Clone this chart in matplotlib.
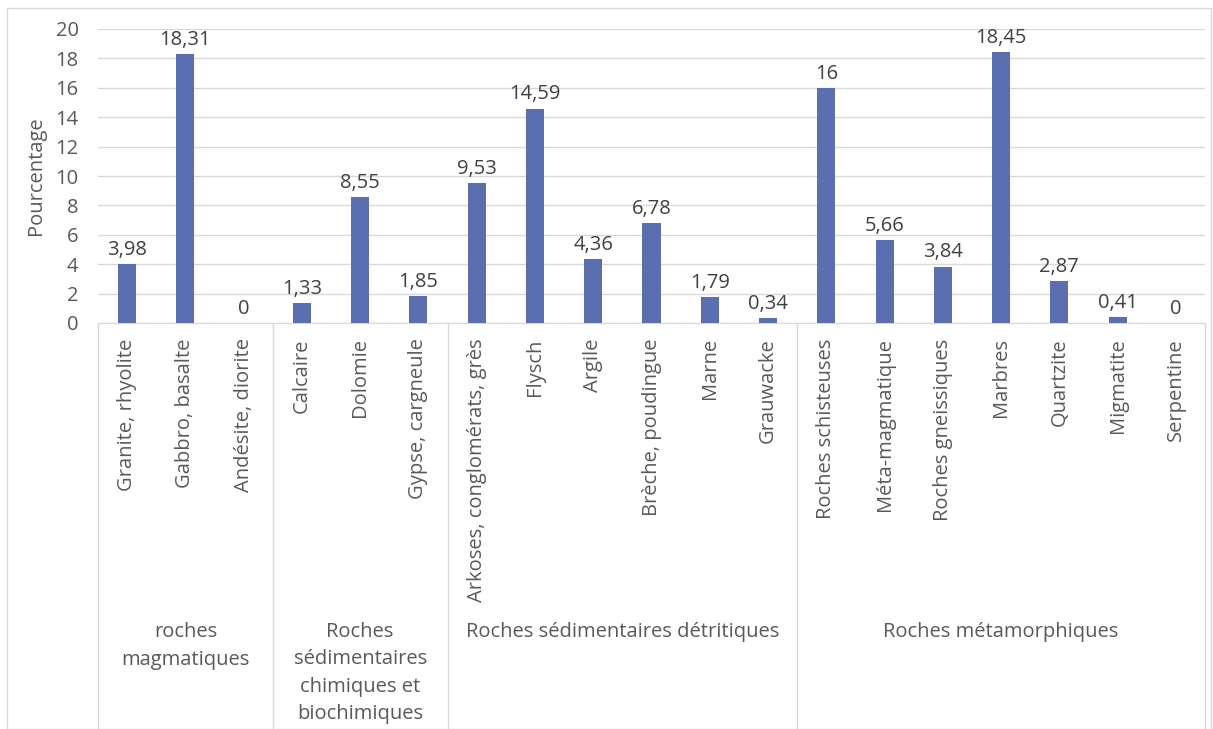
import matplotlib.pyplot as plt
import matplotlib.transforms as mtransforms
from matplotlib.patches import Rectangle

plt.rcParams['font.family'] = ['Open Sans', 'DejaVu Sans']

# Données
categories = ["Granite, rhyolite", "Gabbro, basalte", "Andésite, diorite",
              "Calcaire", "Dolomie", "Gypse, cargneule",
              "Arkoses, conglomérats, grès", "Flysch", "Argile", "Brèche, poudingue",
              "Marne", "Grauwacke",
              "Roches schisteuses", "Méta-magmatique", "Roches gneissiques", "Marbres",
              "Quartzite", "Migmatite", "Serpentine"]
valeurs = [3.98, 18.31, 0, 1.33, 8.55, 1.85, 9.53, 14.59, 4.36, 6.78, 1.79, 0.34,
           16, 5.66, 3.84, 18.45, 2.87, 0.41, 0]
etiquettes = ["3,98", "18,31", "0", "1,33", "8,55", "1,85", "9,53", "14,59", "4,36",
              "6,78", "1,79", "0,34", "16", "5,66", "3,84", "18,45", "2,87", "0,41", "0"]
groupes = ["roches\nmagmatiques", "Roches\nsédimentaires\nchimiques et\nbiochimiques",
           "Roches sédimentaires détritiques", "Roches métamorphiques"]
taille_groupes = [3, 3, 6, 7]

couleur_barre = '#5b6fb0'
couleur_texte = '#595959'
couleur_ligne = '#d9d9d9'
taille_police = 14.5

W, H = 1213, 729
fig = plt.figure(figsize=(W / 100, H / 100), dpi=100)
ax = fig.add_axes([98 / W, (H - 323) / H, (1205 - 98) / W, (323 - 29) / H])

x = list(range(len(categories)))
barres = ax.bar(x, valeurs, width=0.31, color=couleur_barre, zorder=3)

for xi, v, lab in zip(x, valeurs, etiquettes):
    ax.annotate(lab, (xi, v), xytext=(0, 3), textcoords='offset points',
                ha='center', va='bottom', fontsize=taille_police, color='#404040')

ax.set_xlim(-0.5, len(categories) - 0.5)
ax.set_ylim(0, 20)
ax.set_yticks(range(0, 21, 2))
ax.tick_params(axis='y', length=0, labelsize=taille_police, labelcolor=couleur_texte, pad=14)
ax.yaxis.grid(True, color=couleur_ligne, linewidth=1)
ax.set_axisbelow(True)
for s in ['top', 'right', 'left']:
    ax.spines[s].set_visible(False)
ax.spines['bottom'].set_color(couleur_ligne)

ax.set_ylabel("Pourcentage", fontsize=taille_police, color=couleur_texte, labelpad=7)

ax.set_xticks(x)
ax.set_xticklabels(categories, rotation=90, fontsize=taille_police, color=couleur_texte)
ax.tick_params(axis='x', length=0, pad=11)

# Séparateurs et libellés de groupes
trans = mtransforms.blended_transform_factory(ax.transData, fig.transFigure)
bords = [-0.5]
for n in taille_groupes:
    bords.append(bords[-1] + n)
for b in bords:
    ax.plot([b, b], [0 / H, (H - 323) / H], transform=trans, color=couleur_ligne,
            linewidth=1, clip_on=False)
for i, g in enumerate(groupes):
    centre = (bords[i] + bords[i + 1]) / 2
    ax.text(centre, (H - 622) / H, g, transform=trans, ha='center', va='top',
            fontsize=taille_police, color=couleur_texte, linespacing=1.5)

# Cadre du graphique
fig.patches.append(Rectangle((7 / W, 0), (W - 9) / W, (H - 8) / H, transform=fig.transFigure,
                             fill=False, edgecolor=couleur_ligne, linewidth=1))

plt.savefig("out.png", dpi=100)
